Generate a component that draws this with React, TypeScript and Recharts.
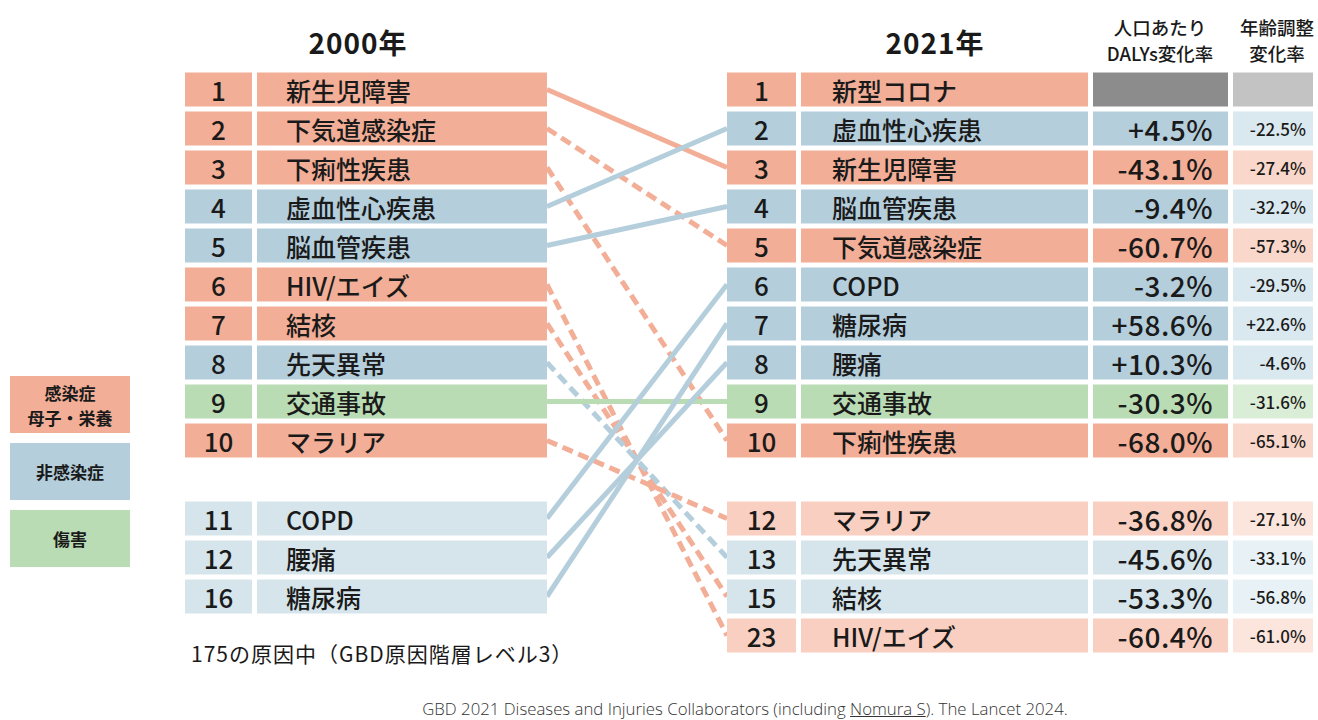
import React from 'react';
import { ComposedChart, XAxis, YAxis, Scatter, ReferenceLine } from 'recharts';

const FONT = '"Noto Sans CJK JP", "Noto Sans", sans-serif';

// 2000年 ranking (top 10 + causes that enter the 2021 top 10)
const ranks2000 = [1, 2, 3, 4, 5, 6, 7, 8, 9, 10, 11, 12, 16];
const causes2000 = ['新生児障害', '下気道感染症', '下痢性疾患', '虚血性心疾患', '脳血管疾患', 'HIV/エイズ', '結核', '先天異常', '交通事故', 'マラリア', 'COPD', '腰痛', '糖尿病'];
const groups2000 = ['comm', 'comm', 'comm', 'ncd', 'ncd', 'comm', 'comm', 'ncd', 'inj', 'comm', 'ncd', 'ncd', 'ncd'];
const dashed2000 = [false, true, true, false, false, true, true, true, false, true, false, false, false];

// 2021年 ranking
const ranks2021 = [1, 2, 3, 4, 5, 6, 7, 8, 9, 10, 12, 13, 15, 23];
const causes2021 = ['新型コロナ', '虚血性心疾患', '新生児障害', '脳血管疾患', '下気道感染症', 'COPD', '糖尿病', '腰痛', '交通事故', '下痢性疾患', 'マラリア', '先天異常', '結核', 'HIV/エイズ'];
const groups2021 = ['comm', 'ncd', 'comm', 'ncd', 'comm', 'ncd', 'ncd', 'ncd', 'inj', 'comm', 'comm', 'ncd', 'ncd', 'comm'];
const dalysChange = [null, 4.5, -43.1, -9.4, -60.7, -3.2, 58.6, 10.3, -30.3, -68.0, -36.8, -45.6, -53.3, -60.4];
const ageStdChange = [null, -22.5, -27.4, -32.2, -57.3, -29.5, 22.6, -4.6, -31.6, -65.1, -27.1, -33.1, -56.8, -61.0];

const legendItems = [
  { group: 'comm', label: ['感染症', '母子・栄養'] },
  { group: 'ncd', label: ['非感染症'] },
  { group: 'inj', label: ['傷害'] },
];

const COLORS: Record<string, { main: string; light: string; tint: string; tintLight: string }> = {
  comm: { main: '#F2AE96', light: '#F8CFC0', tint: '#FAD7CB', tintLight: '#FCE5DD' },
  ncd: { main: '#B4CEDC', light: '#D5E5EB', tint: '#DAE8EF', tintLight: '#E8F1F5' },
  inj: { main: '#B9DCB4', light: '#D5EBD1', tint: '#DAEDD7', tintLight: '#E8F4E6' },
};

// column edges in px (x axis domain is the page width)
const COL = {
  rank2000: [185, 252],
  name2000: [257, 547],
  rank2021: [727, 796],
  name2021: [801, 1088],
  daly: [1093, 1228],
  age: [1233, 1313],
};

const ROW_H = 34;
// top ten rows, then a gap row, then the rest
const slotOf = (i: number) => (i < 10 ? i : i + 1);
const fmtPct = (v: number) => (v > 0 ? '+' : '') + v.toFixed(1) + '%';

const mid = (c: number[]) => (c[0] + c[1]) / 2;

const rows2000 = ranks2000.map((r, i) => ({
  rank: r, cause: causes2000[i], group: groups2000[i], slot: slotOf(i), top: r <= 10,
}));
const rows2021 = ranks2021.map((r, i) => ({
  rank: r, cause: causes2021[i], group: groups2021[i], slot: slotOf(i), top: r <= 10,
  daly: dalysChange[i], age: ageStdChange[i],
}));

const links = rows2000.map((row, i) => {
  const target = rows2021.find((r) => r.cause === row.cause)!;
  return { from: row.slot, to: target.slot, group: row.group, dashed: dashed2000[i] };
});

const colData = (col: number[], rows: any[]) => rows.map((r) => ({ ...r, x: mid(col), y: r.slot }));

const makeShape = (col: number[], kind: string) => (props: any) => {
  const { cx, cy, payload } = props;
  const w = col[1] - col[0];
  const x0 = cx - w / 2;
  const c = COLORS[payload.group];
  let fill = payload.top ? c.main : c.light;
  let content: React.ReactNode = null;
  const txt = { fill: '#1a1a1a', fontFamily: FONT, dominantBaseline: 'central' as const };
  if (kind === 'rank') {
    content = (
      <text x={cx} y={cy} textAnchor="middle" fontSize={26} fontWeight={500} {...txt}>{payload.rank}</text>
    );
  } else if (kind === 'name2000' || kind === 'name2021') {
    content = (
      <text x={x0 + (kind === 'name2000' ? 29 : 31)} y={cy} fontSize={25} fontWeight={500} {...txt}>{payload.cause}</text>
    );
  } else if (kind === 'daly') {
    if (payload.daly == null) fill = '#8C8C8C';
    else content = (
      <text x={x0 + w - 15} y={cy} textAnchor="end" fontSize={28} fontWeight={500} letterSpacing={0.5} {...txt}>{fmtPct(payload.daly)}</text>
    );
  } else if (kind === 'age') {
    fill = payload.top ? c.tint : c.tintLight;
    if (payload.age == null) fill = '#C3C3C3';
    else content = (
      <text x={x0 + w - 7} y={cy} textAnchor="end" fontSize={17} fontWeight={500} {...txt}>{fmtPct(payload.age)}</text>
    );
  }
  return (
    <g>
      <rect x={x0} y={cy - ROW_H / 2} width={w} height={ROW_H} fill={fill} />
      {content}
    </g>
  );
};

const WIDTH = 1318;
const HEIGHT = 720;
// slot 0 centred at 89.5px, 39px per slot
const Y_DOMAIN = [-89.5 / 39, (HEIGHT - 89.5) / 39];

const abs = (x: number, y: number, extra: React.CSSProperties = {}): React.CSSProperties => ({
  position: 'absolute', left: x, top: y, fontFamily: FONT, color: '#1a1a1a', whiteSpace: 'nowrap', ...extra,
});

export default function App() {
  return (
    <div style={{ position: 'absolute', left: 0, top: 0, width: WIDTH, height: HEIGHT, background: '#fff' }}>
      <ComposedChart width={WIDTH} height={HEIGHT} margin={{ top: 0, right: 0, bottom: 0, left: 0 }}>
        <XAxis type="number" dataKey="x" domain={[0, WIDTH]} allowDataOverflow hide />
        <YAxis type="number" dataKey="y" domain={Y_DOMAIN} allowDataOverflow reversed hide />
        {links.map((l, i) => (
          <ReferenceLine
            key={'l' + i}
            segment={[{ x: COL.name2000[1], y: l.from }, { x: COL.rank2021[0], y: l.to }]}
            stroke={COLORS[l.group].main}
            strokeWidth={5}
            strokeDasharray={l.dashed ? '11 6' : undefined}
            ifOverflow="visible"
          />
        ))}
        <Scatter data={colData(COL.rank2000, rows2000)} shape={makeShape(COL.rank2000, 'rank')} isAnimationActive={false} />
        <Scatter data={colData(COL.name2000, rows2000)} shape={makeShape(COL.name2000, 'name2000')} isAnimationActive={false} />
        <Scatter data={colData(COL.rank2021, rows2021)} shape={makeShape(COL.rank2021, 'rank')} isAnimationActive={false} />
        <Scatter data={colData(COL.name2021, rows2021)} shape={makeShape(COL.name2021, 'name2021')} isAnimationActive={false} />
        <Scatter data={colData(COL.daly, rows2021)} shape={makeShape(COL.daly, 'daly')} isAnimationActive={false} />
        <Scatter data={colData(COL.age, rows2021)} shape={makeShape(COL.age, 'age')} isAnimationActive={false} />
      </ComposedChart>

      <div style={abs(358, 22, { transform: 'translateX(-50%)', fontSize: 28, fontWeight: 700, letterSpacing: 1 })}>2000年</div>
      <div style={abs(935, 22, { transform: 'translateX(-50%)', fontSize: 28, fontWeight: 700, letterSpacing: 1 })}>2021年</div>
      <div style={abs(1160, 14, { transform: 'translateX(-50%)', fontSize: 18.5, fontWeight: 500, lineHeight: '26px', textAlign: 'center' })}>
        人口あたり<br />DALYs変化率
      </div>
      <div style={abs(1277, 14, { transform: 'translateX(-50%)', fontSize: 18.5, fontWeight: 500, lineHeight: '26px', textAlign: 'center' })}>
        年齢調整<br />変化率
      </div>

      {legendItems.map((it, i) => (
        <div
          key={it.group}
          style={abs(10, 376 + i * 67, {
            width: 120, height: 57, background: COLORS[it.group].main, display: 'flex', flexDirection: 'column',
            alignItems: 'center', justifyContent: 'center', fontSize: 17, fontWeight: 700, lineHeight: '25px',
          })}
        >
          {it.label.map((t) => <span key={t} style={{ display: 'block', height: 25 }}>{t}</span>)}
        </div>
      ))}

      <div style={abs(191, 638, { fontSize: 21, fontWeight: 400, letterSpacing: 1 })}>175の原因中（GBD原因階層レベル3）</div>
      <div style={abs(745, 697, { transform: 'translateX(-50%)', fontSize: 16.8, fontWeight: 300, color: '#333', fontFamily: '"Open Sans", sans-serif' })}>
        GBD 2021 Diseases and Injuries Collaborators (including <span style={{ textDecoration: 'underline' }}>Nomura S</span>). The Lancet 2024.
      </div>
    </div>
  );
}
